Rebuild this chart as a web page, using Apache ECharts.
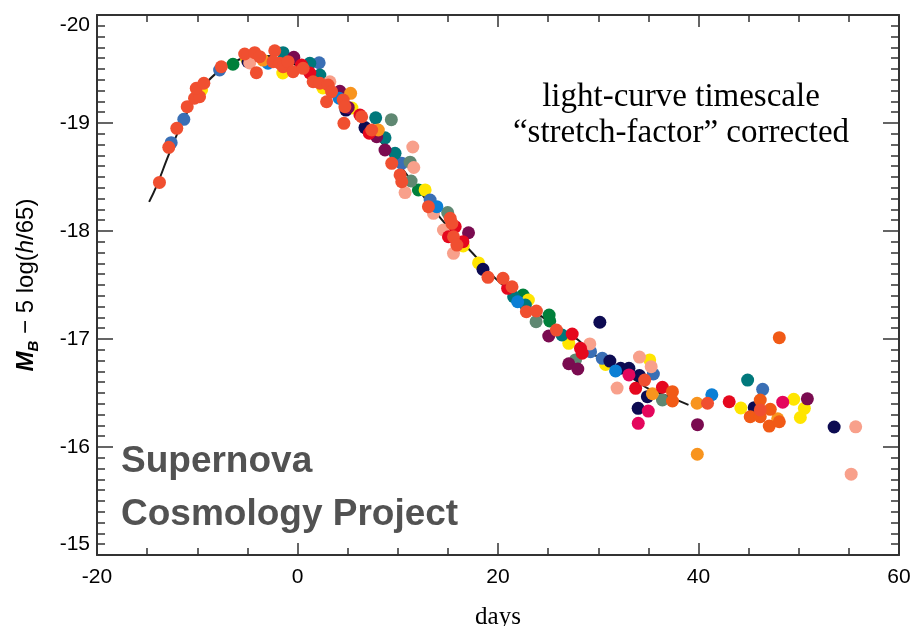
<!DOCTYPE html>
<html>
<head>
<meta charset="utf-8">
<title>Type Ia supernova light curves, stretch corrected</title>
<script src="https://cdn.jsdelivr.net/npm/echarts@6/dist/echarts.min.js"></script>
<style>
  html, body { margin: 0; padding: 0; background: #ffffff; }
  #chart { width: 914px; height: 626px; }
</style>
</head>
<body>
<div id="chart"></div>
<script>
// Axis ticks
const xTicks = { min: -20, max: 60, step: 20 };
const yTicks = { min: -20, max: -15, step: 1 };

// Template light curve (days since maximum, absolute B magnitude)
const templateDays = [-14.8, -14, -13, -12, -11, -10, -9, -8, -7, -6, -5, -4, -3, -2, -1, 0,
  1, 2, 3, 4, 5, 6, 7, 8, 9, 10, 11, 12, 13, 14, 15, 16, 17, 18, 19, 20,
  21, 22, 23, 24, 25, 26, 27, 28, 29, 30, 31, 32, 33, 34, 35, 36, 37, 38, 39];
const templateMag = [-18.27, -18.43, -18.67, -18.90, -19.10, -19.26, -19.38, -19.47, -19.54, -19.58,
  -19.61, -19.62, -19.62, -19.60, -19.57, -19.53, -19.47, -19.41, -19.34, -19.26, -19.17, -19.07,
  -18.97, -18.86, -18.75, -18.63, -18.51, -18.39, -18.27, -18.15, -18.04, -17.93, -17.84, -17.74,
  -17.63, -17.54, -17.46, -17.38, -17.30, -17.23, -17.17, -17.11, -17.05, -16.99, -16.90, -16.83,
  -16.78, -16.72, -16.66, -16.60, -16.54, -16.50, -16.47, -16.43, -16.39];

// Individual supernova observations, one array per supernova colour: [day, magnitude]
const snOrangeRed = [[-13.77,-18.45],[-12.84,-18.775],[-12.04,-18.951],[-11.0,-19.151],[-10.27,-19.229],
  [-9.77,-19.244],[-10.1,-19.321],[-9.34,-19.368],[-7.6,-19.521],[-5.27,-19.639],[-4.27,-19.651],
  [-4.1,-19.466],[-3.77,-19.614],[-2.27,-19.669],[-2.44,-19.568],[-1.77,-19.553],[-1.44,-19.521],
  [-0.94,-19.568],[-0.44,-19.475],[0.56,-19.506],[1.56,-19.382],[2.23,-19.368],[3.06,-19.352],
  [3.4,-19.29],[2.9,-19.197],[4.56,-19.213],[4.73,-19.151],[6.4,-19.058],[4.63,-18.997],[7.4,-18.935],
  [9.4,-18.627],[10.23,-18.519],[10.4,-18.456],[13.06,-18.225],[15.23,-18.118],[15.4,-18.071],
  [15.56,-17.947],[15.9,-17.87],[19.0,-17.571],[20.5,-17.562],[21.4,-17.484],[22.83,-17.253],
  [23.83,-17.259],[25.83,-17.083],[34.63,-16.62],[40.9,-16.405],[46.16,-16.343]];
const snDarkOrange = [[48.06,-17.012],[37.4,-16.512],[37.4,-16.426],[46.16,-16.435],[47.16,-16.349],
  [45.16,-16.281],[46.16,-16.281],[47.06,-16.194],[48.06,-16.234]];
const snRed = [[0.4,-19.537],[1.23,-19.463],[6.23,-19.074],[7.16,-18.905],[15.73,-18.04],[15.06,-17.947],
  [16.5,-17.901],[20.96,-17.469],[27.4,-17.046],[28.23,-16.914],[28.4,-16.868],[33.73,-16.543],
  [36.4,-16.553],[43.06,-16.419]];
const snSteelBlue = [[-12.6,-18.818],[-11.34,-19.034],[-7.77,-19.491],[2.16,-19.558],[10.4,-18.627],
  [13.23,-18.287],[29.23,-16.883],[30.4,-16.821],[35.5,-16.676],[46.4,-16.534]];
const snSkyBlue = [[-2.94,-19.553],[4.16,-19.229],[13.9,-18.225],[21.96,-17.345],[31.73,-16.704],[41.33,-16.484]];
const snNavy = [[-4.94,-19.568],[4.83,-19.12],[6.73,-18.958],[18.5,-17.645],[30.16,-17.155],[31.16,-16.796],
  [32.23,-16.729],[33.06,-16.729],[34.11,-16.662],[34.9,-16.466],[33.98,-16.358],[45.56,-16.364],[53.53,-16.185]];
const snTeal = [[-1.44,-19.651],[1.23,-19.553],[2.23,-19.444],[7.8,-19.048],[8.73,-18.863],[9.73,-18.719],
  [21.56,-17.392],[22.73,-17.315],[26.38,-17.037],[44.9,-16.62]];
const snGreen = [[-6.44,-19.544],[12.06,-18.38],[22.5,-17.407],[25.1,-17.222],[25.16,-17.167]];
const snMaroon = [[-0.37,-19.608],[4.23,-19.294],[5.06,-19.144],[7.9,-18.873],[8.73,-18.75],[17.06,-17.984],
  [25.06,-17.028],[27.06,-16.771],[27.96,-16.722],[39.9,-16.207],[50.86,-16.446]];
const snYellow = [[-9.57,-19.306],[-5.07,-19.593],[-1.47,-19.463],[2.53,-19.324],[5.43,-19.139],[12.73,-18.38],
  [16.53,-17.861],[18.06,-17.704],[23.03,-17.361],[27.06,-16.96],[30.73,-16.764],[35.13,-16.806],
  [44.23,-16.361],[49.5,-16.442],[50.56,-16.358],[50.16,-16.273]];
const snSalmon = [[-4.77,-19.556],[3.23,-19.382],[11.5,-18.778],[11.6,-18.588],[10.73,-18.356],[13.56,-18.164],
  [14.56,-18.009],[15.56,-17.793],[29.16,-16.954],[31.88,-16.546],[34.11,-16.833],[35.28,-16.744],
  [55.68,-16.187],[55.23,-15.748]];
const snOrange = [[-3.44,-19.583],[5.3,-19.275],[8.06,-18.935],[35.4,-16.493],[39.86,-16.405],[39.88,-15.933],[47.9,-16.261]];
const snGrayGreen = [[9.36,-19.031],[11.23,-18.637],[11.33,-18.463],[14.98,-18.171],[23.8,-17.16],[27.73,-16.806],[36.4,-16.435]];
const snMagenta = [[33.06,-16.667],[34.99,-16.333],[33.99,-16.219],[48.4,-16.415]];

const supernovae = [
  { data: snGreen, color: '#00803b' },
  { data: snYellow, color: '#ffe500' },
  { data: snSteelBlue, color: '#3a6fb5' },
  { data: snNavy, color: '#0d0b52' },
  { data: snGrayGreen, color: '#5f8872' },
  { data: snTeal, color: '#00787b' },
  { data: snMaroon, color: '#7a0b50' },
  { data: snSalmon, color: '#f8a08b' },
  { data: snSkyBlue, color: '#0b7fd5' },
  { data: snMagenta, color: '#e4065c' },
  { data: snOrange, color: '#f8941e' },
  { data: snRed, color: '#e5081e' },
  { data: snDarkOrange, color: '#f15a16' },
  { data: snOrangeRed, color: '#f04f30' }
];

const axisColor = '#333333';
const tickFont = { fontFamily: 'Liberation Sans', fontSize: 21, color: '#000000' };

function xAxisDef(position, withLabels) {
  return {
    type: 'value', position: position,
    min: xTicks.min, max: xTicks.max, interval: xTicks.step,
    splitLine: { show: false },
    axisLine: { show: true, onZero: false, lineStyle: { color: axisColor, width: 2 } },
    axisTick: { show: true, inside: true, length: 12, lineStyle: { color: axisColor, width: 1.5 } },
    minorTick: { show: true, splitNumber: 4, length: 7, lineStyle: { color: axisColor, width: 1.5 } },
    axisLabel: Object.assign({ show: withLabels, margin: 12 }, tickFont),
    name: withLabels ? 'days' : '',
    nameLocation: 'middle', nameGap: 50,
    nameTextStyle: { fontFamily: 'Liberation Serif', fontSize: 25, color: '#000000' }
  };
}

function yAxisDef(position, withLabels) {
  return {
    type: 'value', position: position, inverse: true,
    min: yTicks.min, max: yTicks.max, interval: yTicks.step,
    splitLine: { show: false },
    axisLine: { show: true, onZero: false, lineStyle: { color: axisColor, width: 2 } },
    axisTick: { show: true, inside: true, length: 16, lineStyle: { color: axisColor, width: 1.5 } },
    minorTick: { show: true, splitNumber: 10, length: 8, lineStyle: { color: axisColor, width: 1.5 } },
    axisLabel: Object.assign({
      show: withLabels, margin: 7,
      verticalAlignMinLabel: 'top', verticalAlignMaxLabel: 'bottom'
    }, tickFont),
    name: withLabels ? '{m|M}{b|B}{t| − 5 log(}{i|h}{t|/65)}' : '',
    nameLocation: 'middle', nameRotate: 90, nameGap: 56,
    nameTextStyle: {
      rich: {
        m: { fontFamily: 'Liberation Sans', fontSize: 24, fontWeight: 'bold', fontStyle: 'italic', color: '#000', lineHeight: 30, verticalAlign: 'middle' },
        b: { fontFamily: 'Liberation Sans', fontSize: 15, fontWeight: 'bold', fontStyle: 'italic', color: '#000', lineHeight: 15, verticalAlign: 'bottom' },
        t: { fontFamily: 'Liberation Sans', fontSize: 24, color: '#000', lineHeight: 30, verticalAlign: 'middle' },
        i: { fontFamily: 'Liberation Sans', fontSize: 24, fontStyle: 'italic', color: '#000', lineHeight: 30, verticalAlign: 'middle' }
      }
    }
  };
}

const series = [{
  type: 'line',
  data: templateDays.map((d, i) => [d, templateMag[i]]),
  smooth: true,
  showSymbol: false,
  lineStyle: { color: '#1a1a1a', width: 2 },
  z: 1
}].concat(supernovae.map(sn => ({
  type: 'scatter',
  data: sn.data,
  symbol: 'circle',
  symbolSize: 13,
  itemStyle: { color: sn.color, opacity: 1 },
  z: 2
})));

const chart = echarts.init(document.getElementById('chart'));
chart.setOption({
  animation: false,
  backgroundColor: '#ffffff',
  grid: { left: 97, right: 15, top: 15, bottom: 71, containLabel: false, outerBoundsMode: 'none' },
  xAxis: [xAxisDef('bottom', true), xAxisDef('top', false)],
  yAxis: [yAxisDef('left', true), yAxisDef('right', false)],
  series: series,
  graphic: [
    {
      type: 'text', x: 681, y: 115,
      style: {
        text: 'light-curve timescale\n“stretch-factor” corrected',
        fontFamily: 'Liberation Serif', fontSize: 33, lineHeight: 36,
        fill: '#000000', align: 'center', verticalAlign: 'middle'
      }
    },
    {
      type: 'text', x: 121, y: 488,
      style: {
        text: 'Supernova\nCosmology Project',
        fontFamily: 'Liberation Sans', fontSize: 37, fontWeight: 'bold', lineHeight: 53,
        fill: '#525252', align: 'left', verticalAlign: 'middle'
      }
    }
  ]
});
</script>
</body>
</html>
